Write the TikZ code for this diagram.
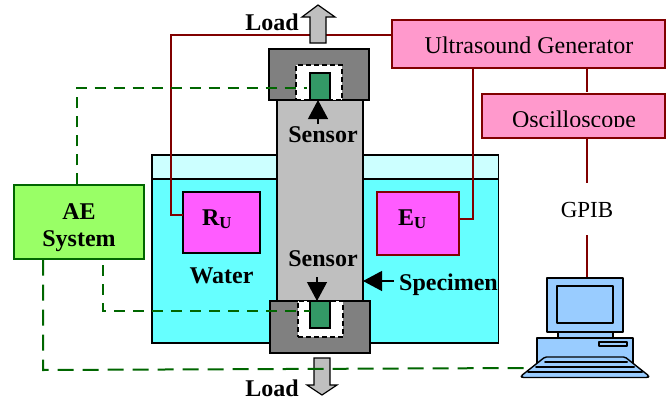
\documentclass[tikz,border=0pt]{standalone}
\usepackage{fontspec}
\setmainfont{Liberation Serif}
\usetikzlibrary{arrows.meta}
\definecolor{wine}{RGB}{128,0,0}
\definecolor{dgreen}{RGB}{0,102,0}
\definecolor{pinkb}{RGB}{255,153,204}
\definecolor{magb}{RGB}{255,92,255}
\definecolor{water}{RGB}{102,255,255}
\definecolor{air}{RGB}{204,255,255}
\definecolor{aeg}{RGB}{153,255,102}
\definecolor{sens}{RGB}{51,153,102}
\definecolor{pc}{RGB}{153,204,255}
\tikzset{x=1pt,y=-1pt,
 redline/.style={draw=wine,line width=1.2pt},
 greenlong/.style={draw=dgreen,line width=2pt,dash pattern=on 16pt off 9pt},
 greenshort/.style={draw=dgreen,line width=2pt,dash pattern=on 11pt off 8pt},
 boxp/.style={draw=wine,line width=1.3pt,fill=pinkb,inner sep=0pt},
 grip/.style={draw=black,line width=1.2pt,fill=black!50,inner sep=0pt},
 cavity/.style={draw=black,line width=1.2pt,dash pattern=on 5pt off 3pt,fill=white,inner sep=0pt},
 sensorbox/.style={draw=black,line width=1.2pt,fill=sens,inner sep=0pt},
 lab/.style={font=\fontsize{24}{26}\bfseries\selectfont,inner sep=0pt,anchor=base},
 plain/.style={font=\fontsize{24}{26}\selectfont,inner sep=0pt,anchor=base},
 pcl/.style={draw=black,line width=1.4pt,fill=pc,line join=round},
 slat/.style={draw=black,line width=2pt,line cap=round},
 bigarrow/.style={draw=black,line width=1.2pt,fill=black!25},
 thinarrow/.style={-{Triangle[length=19pt,width=20pt]},draw=black,line width=1.2pt}}
\begin{document}
\begin{tikzpicture}
\useasboundingbox (0,0) rectangle (669,399);
% water tank
\fill[air] (152,155) rectangle (498.5,179);
\fill[water] (152,179) rectangle (498.5,343);
\draw[black,line width=1.1pt] (152,179) -- (498.5,179);
\draw[black,line width=1.3pt] (152,343) -- (152,155) -- (498.5,155) -- (498.5,343) -- cycle;
% boxes
\node[boxp,minimum width=273pt,minimum height=48pt] (ug) at (528.5,44) {};
\node[plain] (ugt) at (529,53) {Ultrasound Generator};
\node[boxp,minimum width=183pt,minimum height=44pt] (os) at (573.5,116) {};
\node[plain] (ost) at (574,127) {Oscilloscope};
\fill[pinkb] (484,127.3) rectangle (664,137);
\node[plain,font=\fontsize{23}{25}\selectfont] (gp) at (587,217) {GPIB};
\node[draw=black,line width=1.2pt,fill=magb,minimum width=77pt,minimum height=61pt,inner sep=0pt] (ru) at (221.5,222.5) {};
\node[lab] (rut) at (217,225) {R\textsubscript{U}};
\node[draw=wine,line width=1.2pt,fill=magb,minimum width=82pt,minimum height=63pt,inner sep=0pt] (eu) at (418,223.5) {};
\node[lab] (eut) at (412.5,225) {E\textsubscript{U}};
% red wires
\coordinate (ugw) at (392,35);
\coordinate (ruw) at (183,215);
\coordinate (ugs) at (473,68);
\coordinate (euw) at (460,219);
\coordinate (gpt) at (587,183);
\coordinate (gpb) at (587,235);
\coordinate (pct) at (587,278);
\draw[redline] (ugw) -- (171,35) -- (171,215) -- (ruw);
\draw[redline] (ugs) -- (euw -| ugs) -- (euw);
\draw[redline] (ug.south -| gpt) -- (587,92);
\draw[redline] (os.south -| gpt) -- (gpt);
\draw[redline] (gpb) -- (pct);
% specimen
\node[draw=black,line width=1.2pt,fill=black!25,minimum width=86pt,minimum height=204pt,inner sep=0pt] (spec) at (320,199) {};
% top grip
\node[grip,minimum width=100pt,minimum height=51pt] (gt) at (319,74.5) {};
\node[cavity,minimum width=46pt,minimum height=35pt] (ct) at (319,82.5) {};
\node[sensorbox,minimum width=20pt,minimum height=27pt] (st) at (320,86.5) {};
\draw[black,line width=1.2pt] (gt.south west) -- (gt.south east);
% bottom grip
\node[grip,minimum width=100pt,minimum height=52pt] (gb) at (320,327) {};
\node[cavity,minimum width=45pt,minimum height=36pt] (cb) at (320.5,319) {};
\node[sensorbox,minimum width=20pt,minimum height=27pt] (sb) at (320,314.5) {};
\draw[black,line width=1.2pt] (gb.north west) -- (gb.north east);
% load arrows
\draw[bigarrow] (310,43) -- (310,17) -- (302,17) -- (318,5) -- (335,17) -- (326,17) -- (326,43) -- cycle;
\draw[bigarrow] (314,358) -- (314,385) -- (307,385) -- (322,395) -- (337,385) -- (330,385) -- (330,358) -- cycle;
\node[lab] (ltop) at (272,30) {Load};
\node[lab] (lbot) at (272,396) {Load};
% sensor labels
\coordinate (a1) at (318,124);
\coordinate (a1t) at (318,100);
\coordinate (a2) at (317,277);
\coordinate (a2t) at (317,301);
\coordinate (a3) at (394,281);
\coordinate (a3t) at (363,281);
\draw[thinarrow] (a1) -- (a1t);
\draw[thinarrow] (a2) -- (a2t);
\draw[thinarrow] (a3) -- (a3t);
\node[lab] (s1) at (323,142) {Sensor};
\node[lab] (s2) at (323,266) {Sensor};
\node[lab] (w) at (221.5,283) {Water};
\node[lab] (sp) at (448.5,290) {Specimen};
% AE
\node[draw=dgreen,line width=1.4pt,fill=aeg,minimum width=130pt,minimum height=74pt,inner sep=0pt] (ae) at (79,222) {};
\node[lab] (ae1) at (79,219) {AE};
\node[lab] (ae2) at (79,246) {System};
\coordinate (g1) at (307,88);
\coordinate (g2) at (310,311);
\coordinate (g3) at (526,368);
\draw[greenshort] (ae.north -| 77,0) -- (77,88) -- (g1);
\draw[greenshort] (103,265) -- (103,311) -- (g2);
\draw[greenlong] (ae.south -| 43,0) -- (43,370) -- (g3);
% computer
\node[pcl,minimum width=55pt,minimum height=10pt,inner sep=0pt] (neck) at (585.5,335) {};
\node[pcl,minimum width=76pt,minimum height=54pt,inner sep=0pt] (mon) at (585,305) {};
\node[pcl,minimum width=56pt,minimum height=37pt,inner sep=0pt] (scr) at (585,304.5) {};
\node[pcl,minimum width=96pt,minimum height=25pt,inner sep=0pt] (base) at (585,350.5) {};
\node[pcl,minimum width=28pt,minimum height=4pt,inner sep=0pt] (slot) at (613,344) {};
\draw[pcl,rounded corners=1.5pt] (545,357) -- (521,376) -- (522,377.5) -- (648,377.5) -- (649,376) -- (625,357) -- cycle;
\draw[slat] (545,362) -- (627,362);
\draw[slat] (536,367) -- (634,367);
\draw[slat] (528,372) -- (642,372);
\end{tikzpicture}
\end{document}
